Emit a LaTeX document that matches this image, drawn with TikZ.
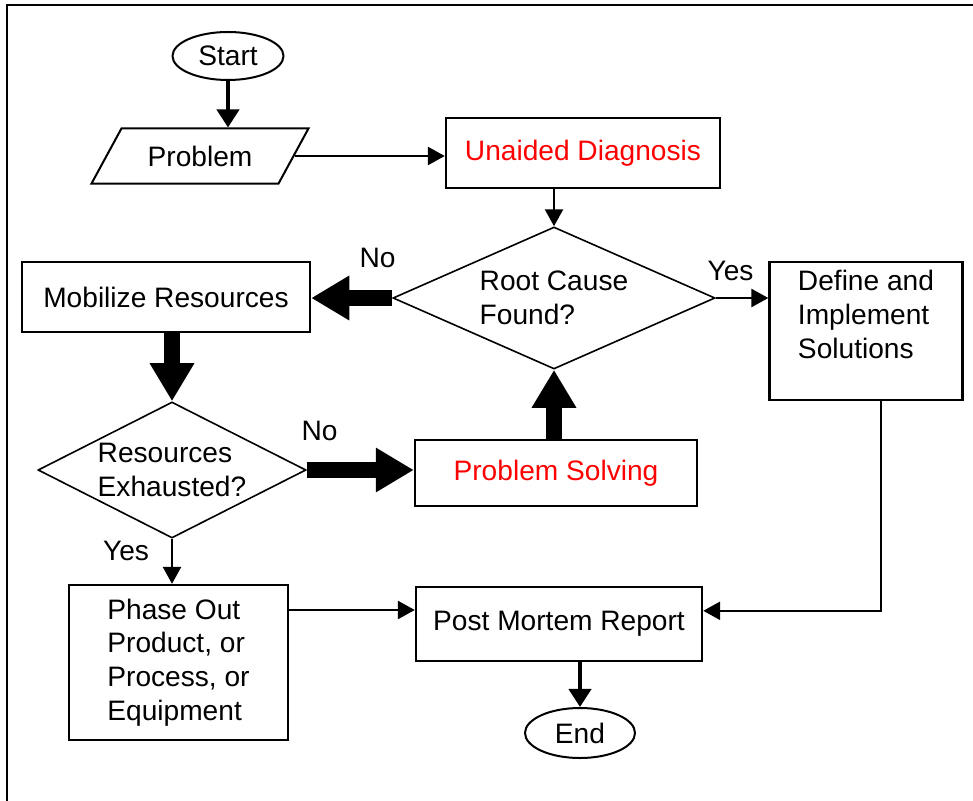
\documentclass[tikz,border=0pt]{standalone}
\usepackage{xcolor}
\usepackage{fontspec}
\setmainfont{Liberation Sans}
\usepackage{tikz}
\usetikzlibrary{arrows.meta, positioning, shapes.geometric, calc}
\tikzset{%
	box/.style={draw, rectangle, line width=0.06cm, inner sep=0mm, align=center},
	decision/.style={draw, diamond, line width=0.04cm, inner sep=0mm, align=left},
	terminal/.style={draw, ellipse, line width=0.05cm, inner sep=0mm},
	io/.style={draw, trapezium, trapezium left angle=46, trapezium right angle=134,%
		trapezium stretches=true, line width=0.05cm, inner sep=0mm},
	flow/.style={line width=0.05cm, -{Triangle[length=0.42cm, width=0.45cm]}},
	midflow/.style={line width=0.1cm, -{Triangle[length=0.45cm, width=0.55cm]}},
	bigflow/.style={line width=0.38cm, -{Triangle[length=0.95cm, width=1.05cm]}},
	lbl/.style={inner sep=0mm},
	hot/.style={text=red}
}

\begin{document}
\begin{tikzpicture}[x=0.025cm, y=-0.025cm, font=\fontsize{20}{24}\selectfont]
	\useasboundingbox (0,0) rectangle (973,801);
	\draw[line width=0.05cm] (7,801) -- (7,5) -- (973,5);

	\node[terminal, minimum width=2.775cm, minimum height=1.2cm] (start) at (228,56) {Start};
	\node[io, minimum width=5.425cm, minimum height=1.375cm] (problem) at (200,156) {Problem};
	\node[box, hot, minimum width=6.85cm, minimum height=1.75cm] (unaided) at (583,153) {Unaided Diagnosis};
	\node[decision, aspect=2.27, minimum width=8.05cm, minimum height=3.55cm] (root) at (554,298) {Root Cause\\Found?};
	\node[box, minimum width=7.2cm, minimum height=1.75cm] (mobilize) at (166,297) {Mobilize Resources};
	\node[decision, aspect=1.97, minimum width=6.7cm, minimum height=3.4cm] (exhausted) at (172,470) {Resources\\Exhausted?};
	\node[box, hot, minimum width=7.05cm, minimum height=1.65cm] (solving) at (556,473) {Problem Solving};
	\node[box, align=left, minimum width=4.825cm, minimum height=3.45cm] (define) at (866,331) {Define and\\Implement\\Solutions\\ \mbox{}};
	\node[box, minimum width=7.15cm, minimum height=1.85cm] (post) at (559,624) {Post Mortem Report};
	\node[box, align=left, minimum width=5.475cm, minimum height=3.875cm] (phase) at (178.5,662.5) {Phase Out\\Product, or\\Process, or\\Equipment};
	\node[terminal, minimum width=2.75cm, minimum height=1.25cm] (end) at (580,733) {End};

	% main path
	\draw[midflow] (start.south) -- (start.south |- problem.north);
	\draw[flow] (problem.east) -- (problem.east -| unaided.west);
	\draw[flow] (root.north |- unaided.south) -- (root.north);
	\draw[bigflow] (root.west) -- node[lbl, pos=0.18, above=0.575cm] {No} (root.west -| mobilize.east);
	\draw[bigflow] (exhausted.north |- mobilize.south) -- (exhausted.north);
	\draw[bigflow] (exhausted.east) -- node[lbl, pos=0.12, above=0.55cm] {No} (exhausted.east -| solving.west);
	\draw[bigflow] (root.south |- solving.north) -- (root.south);
	\draw[flow] (root.east) -- node[lbl, pos=0.28, above=0.4cm] {Yes} (root.east -| define.west);
	\draw[flow] (exhausted.south) -- node[lbl, pos=0.28, left=0.55cm] {Yes} (exhausted.south |- phase.north);

	% closing
	\draw[flow] ([yshift=0.35cm]post.west -| phase.east) -- ([yshift=0.35cm]post.west);
	\draw[flow] ([xshift=0.375cm]define.south) |- ([yshift=0.33cm]post.east);
	\draw[midflow] (end.north |- post.south) -- (end.north);
\end{tikzpicture}
\end{document}
